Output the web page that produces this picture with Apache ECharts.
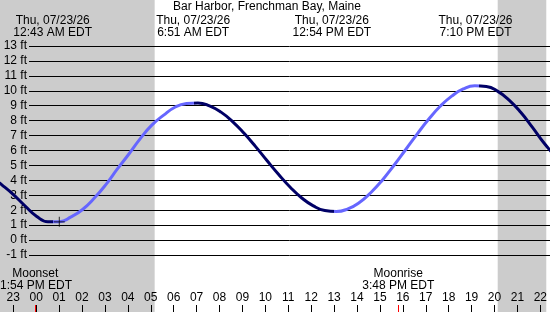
<!DOCTYPE html>
<html>
<head>
<meta charset="utf-8">
<script src="https://cdn.jsdelivr.net/npm/echarts@6/dist/echarts.min.js"></script>
<style>
  html, body { margin: 0; padding: 0; background: #fff; }
  #chart { width: 550px; height: 312px; }
</style>
</head>
<body>
<div id="chart"></div>
<script>
// hours relative to midnight of 07/23 (23 = -1 of previous day)
const xMin = -1.58
const xMax = 22.26

const hourTicks = [-1, 0, 1, 2, 3, 4, 5, 6, 7, 8, 9, 10, 11, 12, 13, 14, 15, 16, 17, 18, 19, 20, 21, 22]
const hourLabels = ['23', '00', '01', '02', '03', '04', '05', '06', '07', '08', '09', '10', '11',
  '12', '13', '14', '15', '16', '17', '18', '19', '20', '21', '22']

// tide curve, every half hour (ft)
const tideHours = [-2, -1.5, -1, -0.5, 0, 0.5, 1, 1.5, 2, 2.5, 3, 3.5, 4, 4.5, 5, 5.5, 6, 6.5, 7, 7.5,
  8, 8.5, 9, 9.5, 10, 10.5, 11, 11.5, 12, 12.5, 13, 13.5, 14, 14.5, 15, 15.5, 16, 16.5, 17, 17.5,
  18, 18.5, 19, 19.5, 20, 20.5, 21, 21.5, 22, 22.5]
const tideFeet = [4.3, 3.7, 3.05, 2.3, 1.6, 1.23, 1.23, 1.55, 2.05, 2.8, 3.7, 4.75, 5.75, 6.8, 7.7, 8.35, 8.9, 9.15, 9.19, 8.99,
  8.57, 7.94, 7.15, 6.26, 5.31, 4.39, 3.54, 2.82, 2.29, 1.98, 1.91, 2.09, 2.52, 3.19, 4.03, 5.01, 6.05, 7.1, 8.09, 8.96,
  9.64, 10.12, 10.33, 10.29, 9.96, 9.36, 8.54, 7.55, 6.5, 5.6]

// high / low events
const eventHours = [0.72, 6.85, 12.9, 19.17]
const eventTypes = ['L', 'H', 'L', 'H']
const eventDates = ['Thu, 07/23/26', 'Thu, 07/23/26', 'Thu, 07/23/26', 'Thu, 07/23/26']
const eventTimes = ['12:43 AM EDT', '6:51 AM EDT', '12:54 PM EDT', '7:10 PM EDT']

// night shading
const sunrise = 5.17
const sunset = 20.14

// moon
const moonHours = [-0.04, 15.8]
const moonNames = ['Moonset', 'Moonrise']
const moonTimes = ['1:54 PM EDT', '3:48 PM EDT']

// cross marker
const nowHour = 0.99
const nowFeet = 1.22

const FONT = '"Liberation Sans", Arial, sans-serif'
const DARK = '#000066'
const LIGHT = '#6666ff'

const chart = echarts.init(document.getElementById('chart'))

// colour pieces: falling = dark, rising = light
const pieces = []
let prev = -10
eventHours.forEach((h, i) => {
  pieces.push({ gte: prev, lt: h, color: eventTypes[i] === 'L' ? DARK : LIGHT })
  prev = h
})
pieces.push({ gte: prev, lte: 40, color: eventTypes[eventTypes.length - 1] === 'L' ? LIGHT : DARK })

const option = {
  animation: false,
  title: {
    text: 'Bar Harbor, Frenchman Bay, Maine',
    left: 173,
    top: 1,
    padding: 0,
    textStyle: { fontSize: 12, fontWeight: 'normal', color: '#000', fontFamily: FONT }
  },
  grid: [
    { left: 0, right: 0, top: 0, bottom: 0 },
    { left: 29, right: 0, top: 46, bottom: 57 },
    { left: 0, right: 0, top: 46, bottom: 57 }
  ],
  xAxis: [
    {
      gridIndex: 0, type: 'value', min: xMin, max: xMax, z: 3, position: 'bottom',
      axisLine: { show: false },
      splitLine: { show: false },
      axisTick: { show: true, inside: true, length: 7, customValues: hourTicks, lineStyle: { color: '#000' } },
      axisLabel: {
        show: true, inside: true, margin: 8, customValues: hourTicks,
        color: '#000', fontSize: 12, fontFamily: FONT,
        formatter: v => hourLabels[hourTicks.indexOf(Math.round(v))]
      }
    },
    { gridIndex: 1, type: 'value', min: xMin, max: xMax, show: false },
    { gridIndex: 2, type: 'value', min: xMin, max: xMax, show: false },
    {
      gridIndex: 0, type: 'value', min: xMin, max: xMax, z: 4, position: 'bottom', offset: 0,
      axisLine: { show: false },
      splitLine: { show: false },
      axisLabel: { show: false },
      axisTick: { show: true, inside: true, length: 7, customValues: moonHours, lineStyle: { color: '#ff0000' } }
    }
  ],
  yAxis: [
    { gridIndex: 0, type: 'value', min: 0, max: 1, show: false },
    {
      gridIndex: 1, type: 'value', min: -1, max: 13, interval: 1, z: 3,
      axisLine: { show: false },
      axisTick: { show: false },
      splitLine: { show: true, lineStyle: { color: '#000', width: 1 } },
      axisLabel: { margin: 2, color: '#000', fontSize: 12, fontFamily: FONT, formatter: v => v + ' ft' }
    },
    { gridIndex: 2, type: 'value', min: -1, max: 13, show: false }
  ],
  visualMap: {
    show: false,
    type: 'piecewise',
    seriesIndex: 1,
    dimension: 0,
    pieces: pieces
  },
  series: [
    {
      type: 'line', xAxisIndex: 0, yAxisIndex: 0, z: 1,
      data: [],
      silent: true,
      markArea: {
        silent: true,
        itemStyle: { color: '#cccccc' },
        data: [
          [{ xAxis: xMin }, { xAxis: sunrise }],
          [{ xAxis: sunset }, { xAxis: xMax }]
        ]
      }
    },
    {
      type: 'line', xAxisIndex: 2, yAxisIndex: 2, z: 5,
      smooth: 0.5,
      clip: true,
      showSymbol: false,
      lineStyle: { width: 3 },
      data: tideHours.map((h, i) => [h, tideFeet[i]])
    },
    {
      type: 'scatter', xAxisIndex: 2, yAxisIndex: 2, z: 6,
      symbol: 'rect',
      itemStyle: { color: '#000' },
      data: [
        { value: [nowHour, nowFeet], symbolSize: [11, 1] },
        { value: [nowHour, nowFeet], symbolSize: [1, 10] }
      ]
    }
  ]
}

chart.setOption(option)

// event labels positioned through the x scale
const ctx = document.createElement('canvas').getContext('2d')
ctx.font = '12px ' + FONT
const placeLine = (text, h, y) => {
  const cx = chart.convertToPixel({ xAxisIndex: 0 }, h)
  const w = ctx.measureText(text).width
  const left = Math.max(0, Math.min(550 - w, cx - w / 2))
  return {
    type: 'text', left: left, top: y, z: 10,
    style: { text: text, fill: '#000', font: '12px ' + FONT }
  }
}

const graphics = []
eventHours.forEach((h, i) => {
  graphics.push(placeLine(eventDates[i], h, 15))
  graphics.push(placeLine(eventTimes[i], h, 27))
})
moonHours.forEach((h, i) => {
  graphics.push(placeLine(moonNames[i], h, 268))
  graphics.push(placeLine(moonTimes[i], h, 280))
})
chart.setOption({ graphic: graphics })
</script>
</body>
</html>
